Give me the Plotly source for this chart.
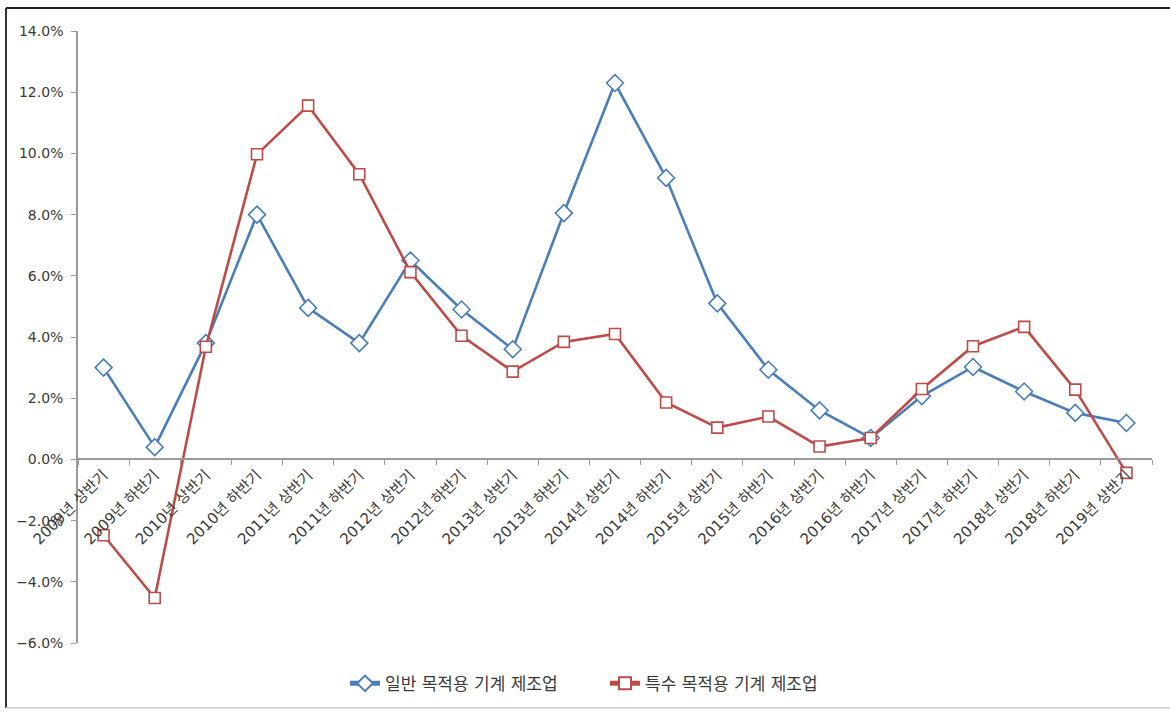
import plotly.graph_objects as go

# Half-year periods
periods = [
    "2009년 상반기", "2009년 하반기", "2010년 상반기", "2010년 하반기",
    "2011년 상반기", "2011년 하반기", "2012년 상반기", "2012년 하반기",
    "2013년 상반기", "2013년 하반기", "2014년 상반기", "2014년 하반기",
    "2015년 상반기", "2015년 하반기", "2016년 상반기", "2016년 하반기",
    "2017년 상반기", "2017년 하반기", "2018년 상반기", "2018년 하반기",
    "2019년 상반기",
]

# Growth rates (%)
general_purpose = [3.0, 0.4, 3.8, 8.0, 4.95, 3.8, 6.5, 4.9, 3.6, 8.05, 12.3,
                   9.2, 5.1, 2.93, 1.6, 0.7, 2.07, 3.02, 2.22, 1.52, 1.19]
special_purpose = [-2.48, -4.53, 3.68, 9.97, 11.56, 9.32, 6.12, 4.04, 2.87, 3.84, 4.1,
                   1.86, 1.04, 1.4, 0.42, 0.7, 2.3, 3.7, 4.33, 2.28, -0.44]

series_names = ["일반 목적용 기계 제조업", "특수 목적용 기계 제조업"]
y_ticks = [-6, -4, -2, 0, 2, 4, 6, 8, 10, 12, 14]

BLUE = "#4A7EBB"
RED = "#BE4B48"
FONT = "DejaVu Sans, Noto Sans CJK KR"
TEXT = "#3A3A3A"

W, H = 1170, 714
ML, MR, MT, MB = 78, 18, 31, 68
PW, PH = W - ML - MR, H - MT - MB

fig = go.Figure()
fig.add_trace(go.Scatter(
    x=periods, y=[v / 100 for v in general_purpose], name=series_names[0],
    mode="lines+markers",
    line=dict(color=BLUE, width=2.6),
    marker=dict(symbol="diamond", size=13, color="white",
                line=dict(color=BLUE, width=1.6)),
))
fig.add_trace(go.Scatter(
    x=periods, y=[v / 100 for v in special_purpose], name=series_names[1],
    mode="lines+markers",
    line=dict(color=RED, width=2.6),
    marker=dict(symbol="square", size=11, color="white",
                line=dict(color=RED, width=1.6)),
))

ymin, ymax = y_ticks[0] / 100, y_ticks[-1] / 100
zero_pos = (0 - ymin) / (ymax - ymin)

def px_x(p):
    return (p - ML) / PW

def px_y(p):
    return (MT + PH - p) / PH

# Outer frame of the chart area
frame = [
    dict(x0=px_x(6), x1=px_x(1170), y0=px_y(8), y1=px_y(8), color="#222222", w=2),
    dict(x0=px_x(6), x1=px_x(6), y0=px_y(8), y1=px_y(711), color="#333333", w=2),
    dict(x0=px_x(6), x1=px_x(1170), y0=px_y(711), y1=px_y(711), color="#CCCCCC", w=1.5),
]
for s in frame:
    fig.add_shape(type="line", xref="paper", yref="paper",
                  x0=s["x0"], x1=s["x1"], y0=s["y0"], y1=s["y1"],
                  line=dict(color=s["color"], width=s["w"]))

fig.update_layout(
    width=W, height=H,
    margin=dict(l=ML, r=MR, t=MT, b=MB),
    paper_bgcolor="white", plot_bgcolor="white",
    font=dict(family=FONT, color=TEXT),
    showlegend=True,
    legend=dict(orientation="h", x=px_x(345), xanchor="left", y=px_y(687), yanchor="middle",
                font=dict(size=17, color=TEXT), itemwidth=30,
                entrywidth=215, entrywidthmode="pixels",
                tracegroupgap=0, itemsizing="constant"),
    xaxis=dict(
        type="category", anchor="free", position=zero_pos,
        showline=True, linecolor="#9A9A9A", linewidth=2,
        ticks="outside", tickson="boundaries", ticklen=5, tickcolor="#9A9A9A",
        tickangle=-45, tickfont=dict(size=15, color=TEXT),
        showgrid=False, zeroline=False, automargin=False,
        range=[-0.5, len(periods) - 0.5],
    ),
    yaxis=dict(
        range=[ymin, ymax], tickvals=[v / 100 for v in y_ticks], tickformat=".1%",
        showline=True, linecolor="#9A9A9A", linewidth=1.5,
        ticks="outside", ticklen=5, tickcolor="#9A9A9A", ticklabelstandoff=5,
        tickfont=dict(size=14, color=TEXT),
        showgrid=False, zeroline=False, automargin=False,
    ),
)

fig.write_html("out.html")
